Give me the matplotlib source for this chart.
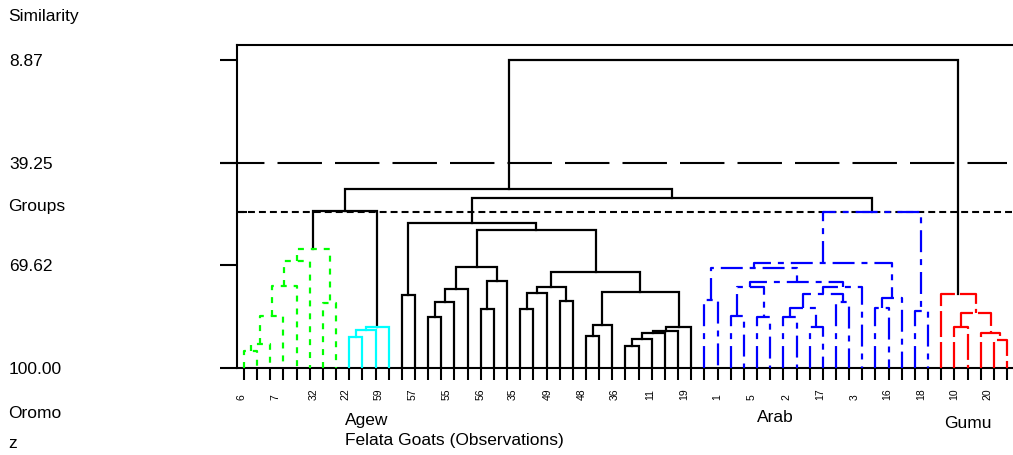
import matplotlib
matplotlib.use("Agg")
import matplotlib.pyplot as plt

plt.rcParams['font.family'] = ['Liberation Sans', 'DejaVu Sans']
plt.rcParams['lines.scale_dashes'] = False

# similarity axis
sim_ticks = [8.87, 39.25, 69.62, 100.00]
sim_labels = ["8.87", "39.25", "69.62", "100.00"]
cut_level = 39.25
group_level = 53.7

# groups in leaf order, with number of observations
group_names = ["Oromo", "Agew", "Felata", "Arab", "Gumu"]
group_sizes = [8, 4, 23, 18, 6]

# merges (left, right, similarity): id < 59 is a leaf, id 59+k is merge k
merges = [
    # Oromo
    (0, 1, 94.88), (59, 2, 92.90), (60, 3, 84.62), (61, 4, 75.74),
    (62, 5, 68.34), (6, 7, 80.86), (63, 64, 64.79),
    # Agew
    (8, 9, 90.74), (66, 10, 88.76), (67, 11, 87.78),
    # Felata
    (12, 13, 78.40), (14, 15, 85.00), (70, 16, 80.56), (71, 17, 76.72),
    (18, 19, 82.63), (73, 20, 74.26), (72, 74, 70.20), (21, 22, 82.63),
    (76, 23, 77.90), (24, 25, 80.09), (77, 78, 76.12), (26, 27, 90.44),
    (80, 28, 87.13), (29, 30, 93.49), (82, 31, 91.42), (83, 32, 89.73),
    (84, 33, 89.05), (85, 34, 87.78), (81, 86, 77.43), (79, 87, 71.68),
    (75, 88, 59.17), (69, 89, 57.01),
    # Arab
    (35, 36, 79.88), (37, 38, 84.53), (39, 40, 85.00), (92, 93, 76.12),
    (41, 42, 85.00), (43, 44, 87.78), (95, 96, 82.34), (45, 46, 80.39),
    (97, 98, 78.20), (99, 47, 76.12), (94, 100, 74.47), (91, 101, 70.50),
    (48, 49, 82.34), (103, 50, 79.38), (102, 104, 68.84), (51, 52, 83.05),
    (105, 106, 53.84),
    # Gumu
    (54, 55, 87.78), (57, 58, 91.72), (56, 109, 89.73), (108, 110, 83.82),
    (53, 111, 78.20),
    # between groups
    (65, 68, 53.55), (90, 107, 49.70), (113, 114, 47.04), (115, 112, 8.87),
]

# observation labels shown under the axis and where they sit (leaf units)
obs_labels = ["6", "7", "32", "22", "59", "57", "55", "56", "35", "49", "48", "36",
              "11", "19", "1", "5", "2", "17", "3", "16", "18", "10", "20"]
obs_label_pos = [-0.2, 2.4, 5.3, 7.7, 10.2, 12.8, 15.4, 18.0, 20.4, 23.1, 25.7, 28.2,
                 30.9, 33.5, 36.0, 38.6, 41.2, 43.8, 46.4, 48.9, 51.5, 54.0, 56.5]

styles = {
    "Oromo": ("#00ff00", (0, (4.3, 5.0))),
    "Agew": ("#00ffff", "-"),
    "Felata": ("black", "-"),
    "Arab": ("#0000ff", (0, (15.8, 5.0, 4.3, 5.0))),
    "Gumu": ("#ff0000", (0, (18.7, 3.6))),
    "top": ("black", "-"),
}

W, H = 1013, 455
fig = plt.figure(figsize=(W / 100, H / 100), dpi=100)
ax = fig.add_axes([237 / W, 1 - 368 / H, (W - 237) / W, 323 / H])

n = sum(group_sizes)
leaf_group = []
for g, s in zip(group_names, group_sizes):
    leaf_group += [g] * s

xpos = list(range(n))
hpos = [100.0] * n
grp = list(leaf_group)
for a, b, s in merges:
    xa, xb = xpos[a], xpos[b]
    g = grp[a] if grp[a] == grp[b] else "top"
    col, ls = styles[g]
    ax.plot([xa, xa, xb, xb], [hpos[a], s, s, hpos[b]], color=col, ls=ls, lw=1.6,
            solid_joinstyle='miter', zorder=3 if g != "top" else 2)
    xpos.append((xa + xb) / 2)
    hpos.append(s)
    grp.append(g)

xl = (237 - 244) / 13.155
xr = (W - 244) / 13.155
ax.set_xlim(xl, xr)
ax.set_ylim(100, 4.43)

# cut lines
ax.plot([xl - 1.3, n - 1], [cut_level, cut_level], color="black", lw=1.5,
        ls=(0, (32, 9.4)), clip_on=False)
ax.plot([xl, xr], [group_level, group_level], color="black", lw=1.5,
        ls=(0, (5, 2.9)))
ax.plot([xl + 0.25, xl + 0.7], [group_level, group_level], color="black", lw=1.5)

for sp in ["left", "top", "bottom"]:
    ax.spines[sp].set_linewidth(1.5)
ax.spines["right"].set_visible(False)

ax.set_yticks(sim_ticks, sim_labels)
ax.tick_params(axis="y", direction="out", length=12.2, width=1.5, pad=152, labelsize=12.5)
for lbl in ax.get_yticklabels():
    lbl.set_horizontalalignment("left")

ax.set_xticks([])
ax.set_xticks(range(n), minor=True)
ax.tick_params(axis="x", which="minor", direction="out", length=8.6, width=1.5)

for lab, p in zip(obs_labels, obs_label_pos):
    ax.text(p, -0.098, lab, transform=ax.get_xaxis_transform(), rotation=90,
            ha="center", va="bottom", fontsize=7.5)

def ftext(x, y, s, size=12.5):
    fig.text(x / W, 1 - y / H, s, ha="left", va="center", fontsize=size)

ftext(8, 17, "Similarity")
ftext(8, 207, "Groups")
ftext(8, 413, "Oromo")
ftext(8, 444, "z")
ftext(345, 421, "Agew")
ftext(345, 440, "Felata Goats (Observations)")
ftext(757, 418, "Arab")
ftext(944, 424, "Gumu")

fig.savefig("out.png", dpi=100)
